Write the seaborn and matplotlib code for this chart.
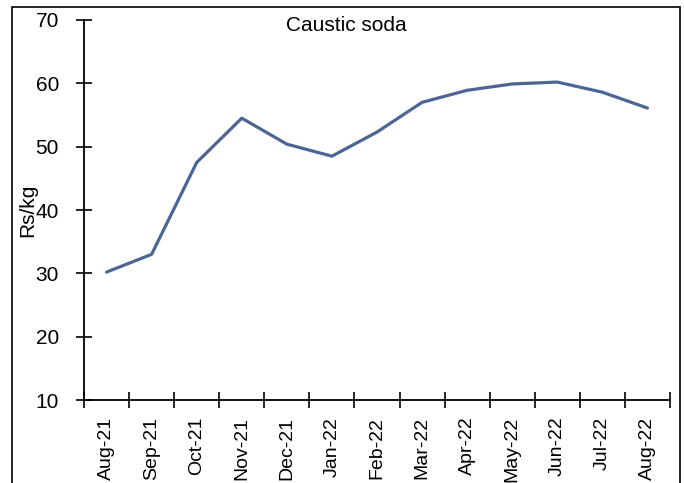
import matplotlib
matplotlib.use("Agg")
import matplotlib.pyplot as plt
from matplotlib.patches import Rectangle
import seaborn as sns
import pandas as pd
import numpy as np

months = ["Aug-21", "Sep-21", "Oct-21", "Nov-21", "Dec-21", "Jan-22", "Feb-22",
          "Mar-22", "Apr-22", "May-22", "Jun-22", "Jul-22", "Aug-22"]
price = [30.2, 33.0, 47.5, 54.5, 50.4, 48.5, 52.3, 57.0, 58.9, 59.9, 60.2, 58.6, 56.1]
y_ticks = [10, 20, 30, 40, 50, 60, 70]

sns.set_style("white")
plt.rcParams["font.family"] = ["Liberation Sans", "DejaVu Sans"]
plt.rcParams["text.color"] = "black"
plt.rcParams["xtick.color"] = "black"
plt.rcParams["ytick.color"] = "black"

df = pd.DataFrame({"pos": np.arange(len(months)), "month": months, "price": price})

fig = plt.figure(figsize=(6.84, 4.83), dpi=100)
ax = fig.add_axes([0.1228, 0.1718, 0.8567, 0.7868])

sns.lineplot(data=df, x="pos", y="price", ax=ax, color="#4D6595", linewidth=2.3)

ax.set_xlim(-0.5, len(months) - 0.5)
ax.set_ylim(10, 70)
ax.set_yticks(y_ticks)
ax.set_yticklabels([str(v) for v in y_ticks], fontsize=15)

ax.set_xticks(df["pos"])
ax.set_xticklabels(months, rotation=90, fontsize=14)
ax.set_xticks(np.arange(-0.5, len(months)), minor=True)
ax.tick_params(axis="x", which="major", bottom=True, length=0, pad=12)
ax.tick_params(axis="x", which="minor", bottom=True, direction="inout",
               length=12, width=1.2, color="black")
ax.tick_params(axis="y", which="major", left=True, direction="inout",
               length=12, width=1.2, color="black", pad=12)

for side in ["top", "right"]:
    ax.spines[side].set_visible(False)
for side in ["left", "bottom"]:
    ax.spines[side].set_color("black")
    ax.spines[side].set_linewidth(1.3)

ax.set_xlabel("")
ax.set_ylabel("Rs/kg", fontsize=15, color="black")
ax.yaxis.set_label_coords(-0.079, 0.5)

ax.text(0.448, 0.985, "Caustic soda", transform=ax.transAxes,
        ha="center", va="center", fontsize=15, color="black")

# outer frame around the chart
fig.patches.append(Rectangle((0.0175, -0.05), 0.9765, 1.0355, transform=fig.transFigure,
                             fill=False, edgecolor="black", linewidth=1.2, clip_on=False))

fig.savefig("out.png", dpi=100)
